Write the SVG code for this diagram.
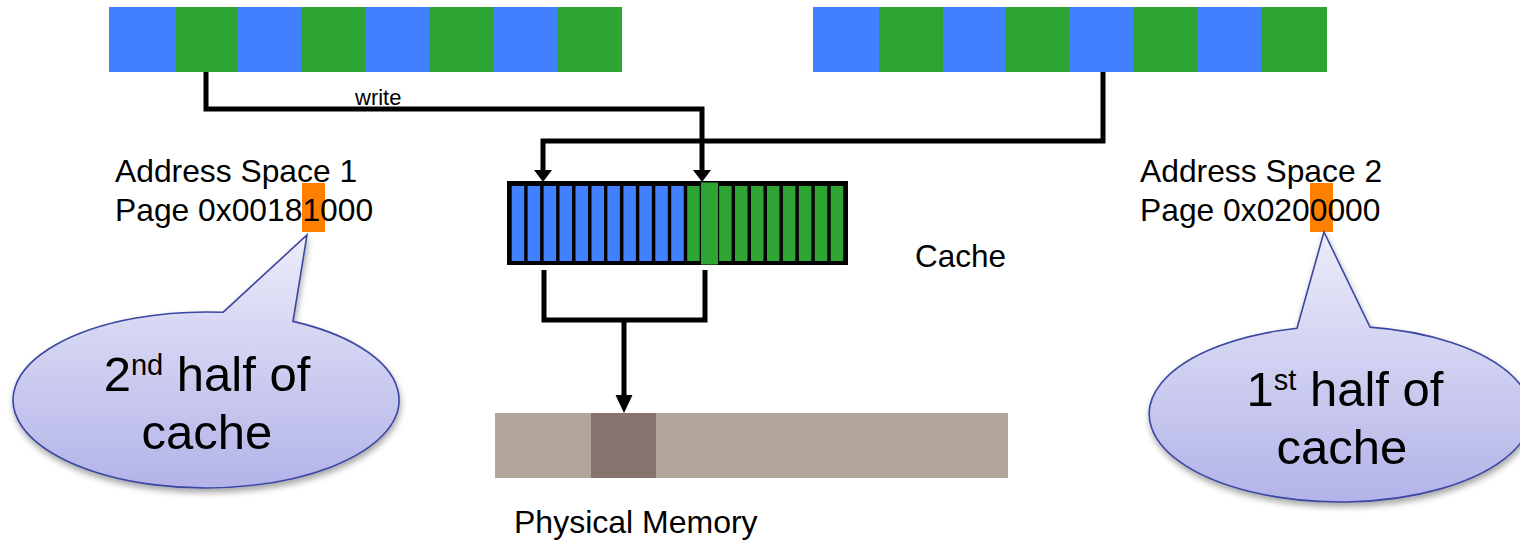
<svg xmlns="http://www.w3.org/2000/svg" xmlns:xlink="http://www.w3.org/1999/xlink" width="1520" height="541" viewBox="0 0 1520 541">
<style>
.t{font-family:"Liberation Sans",Arial,sans-serif;fill:#000}
.b{fill:#4181FF}
.g{fill:#2EA533}
.ln{fill:none;stroke:#000;stroke-width:5;stroke-linejoin:miter}
.call{fill:url(#cg);stroke:#3A47A0;stroke-width:1.6;filter:url(#sh)}
.org{fill:#FF7F00}
</style>
<defs>
<linearGradient id="cg" x1="0" y1="0" x2="0" y2="1">
<stop offset="0" stop-color="#ECECFA"/>
<stop offset="1" stop-color="#B3B3E9"/>
</linearGradient>
<filter id="sh" x="-10%" y="-10%" width="130%" height="130%">
<feDropShadow dx="1" dy="4" stdDeviation="3" flood-color="#000" flood-opacity="0.35"/>
</filter>
<path id="ahS" d="M-9,-12 L9,-12 L0,0 Z"/>
<path id="ahL" d="M-8.5,-18 L8.5,-18 L0,0 Z"/>
</defs>

<g id="addrspace1-pages">
<rect class="b" x="109" y="7" width="67" height="65"/>
<rect class="g" x="176" y="7" width="62" height="65"/>
<rect class="b" x="238" y="7" width="63" height="65"/>
<rect class="g" x="301" y="7" width="65" height="65"/>
<rect class="b" x="366" y="7" width="64" height="65"/>
<rect class="g" x="430" y="7" width="64" height="65"/>
<rect class="b" x="494" y="7" width="63" height="65"/>
<rect class="g" x="557" y="7" width="65" height="65"/>
</g>

<g id="addrspace2-pages">
<rect class="b" x="813" y="7" width="66" height="65"/>
<rect class="g" x="879" y="7" width="64" height="65"/>
<rect class="b" x="943" y="7" width="63" height="65"/>
<rect class="g" x="1006" y="7" width="64" height="65"/>
<rect class="b" x="1070" y="7" width="64" height="65"/>
<rect class="g" x="1134" y="7" width="64" height="65"/>
<rect class="b" x="1198" y="7" width="64" height="65"/>
<rect class="g" x="1262" y="7" width="65" height="65"/>
</g>

<g id="cache">
<rect x="507" y="181" width="341" height="84" fill="#000"/>
<rect class="b" x="511.7" y="186" width="12.5" height="75"/>
<rect class="b" x="527.6" y="186" width="12.5" height="75"/>
<rect class="b" x="543.6" y="186" width="12.5" height="75"/>
<rect class="b" x="559.5" y="186" width="12.5" height="75"/>
<rect class="b" x="575.5" y="186" width="12.5" height="75"/>
<rect class="b" x="591.5" y="186" width="12.5" height="75"/>
<rect class="b" x="607.4" y="186" width="12.5" height="75"/>
<rect class="b" x="623.4" y="186" width="12.5" height="75"/>
<rect class="b" x="639.3" y="186" width="12.5" height="75"/>
<rect class="b" x="655.3" y="186" width="12.5" height="75"/>
<rect class="b" x="671.2" y="186" width="12.5" height="75"/>
<rect class="g" x="687.2" y="186" width="12.5" height="75"/>
<rect class="g" x="703.1" y="186" width="12.5" height="75"/>
<rect class="g" x="719.1" y="186" width="12.5" height="75"/>
<rect class="g" x="735.0" y="186" width="12.5" height="75"/>
<rect class="g" x="751.0" y="186" width="12.5" height="75"/>
<rect class="g" x="767.0" y="186" width="12.5" height="75"/>
<rect class="g" x="782.9" y="186" width="12.5" height="75"/>
<rect class="g" x="798.9" y="186" width="12.5" height="75"/>
<rect class="g" x="814.8" y="186" width="12.5" height="75"/>
<rect class="g" x="830.7" y="186" width="12.5" height="75"/>
<rect class="g" x="701" y="182.5" width="17" height="82"/>
</g>
<text class="t" x="915" y="267" font-size="31.5">Cache</text>

<g id="memory">
<rect x="495" y="413" width="513" height="65" fill="#B2A59A"/>
<rect x="591" y="413" width="65" height="65" fill="#877370"/>
</g>
<text class="t" x="514" y="533" font-size="32">Physical Memory</text>

<g id="label1">
<rect class="org" x="302" y="183" width="23" height="49"/>
<text class="t" x="115" y="182" font-size="31.8">Address Space 1</text>
<text class="t" x="115" y="221" font-size="31.8">Page 0x00181000</text>
</g>

<g id="label2">
<rect class="org" x="1310" y="183" width="23" height="49"/>
<text class="t" x="1140" y="182" font-size="31.8">Address Space 2</text>
<text class="t" x="1140" y="221" font-size="31.8">Page 0x0200000</text>
</g>

<g id="connectors">
<path class="ln" d="M206,72 V109 H702 V171"/>
<use xlink:href="#ahS" x="702" y="182"/>
<path class="ln" d="M1103,72 V141 H543 V171"/>
<use xlink:href="#ahS" x="543" y="182"/>
<path class="ln" d="M544,270 V320 H705 V270"/>
<path class="ln" d="M624,320 V397"/>
<use xlink:href="#ahL" x="624" y="413"/>
<text class="t" x="355" y="105" font-size="22">write</text>
</g>

<g id="callout1">
<path class="call" d="M223,312.3 L307,235 L293,321.4 A193,88 0 1 1 223,312.3 Z"/>
<text class="t" x="207" y="391" font-size="49" text-anchor="middle">2<tspan font-size="29" dy="-16">nd</tspan><tspan dy="16"> half of</tspan></text>
<text class="t" x="207" y="449" font-size="49" text-anchor="middle">cache</text>
</g>

<g id="callout2">
<path class="call" d="M1297,328.3 L1324,232 L1370,327.1 A191,88 0 1 1 1297,328.3 Z"/>
<text class="t" x="1345" y="406" font-size="49" text-anchor="middle">1<tspan font-size="29" dy="-16">st</tspan><tspan dy="16"> half of</tspan></text>
<text class="t" x="1342" y="464" font-size="49" text-anchor="middle">cache</text>
</g>
</svg>
